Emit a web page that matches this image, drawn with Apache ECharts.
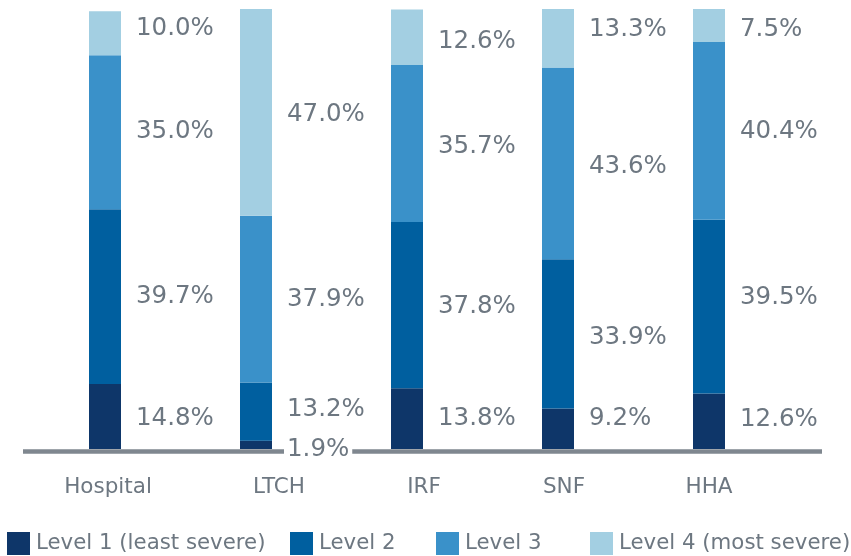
<!DOCTYPE html>
<html>
<head>
<meta charset="utf-8">
<style>
html,body{margin:0;padding:0;background:#fff;}
#main{width:851px;height:556px;}
</style>
<script src="https://cdn.jsdelivr.net/npm/echarts@6/dist/echarts.min.js"></script>
</head>
<body>
<div id="main"></div>
<script>
// ---- data ----
var categories = ['Hospital', 'LTCH', 'IRF', 'SNF', 'HHA'];
var seriesNames = ['Level 1 (least severe)', 'Level 2', 'Level 3', 'Level 4 (most severe)'];
var level1 = [14.8, 1.9, 13.8, 9.2, 12.6];
var level2 = [39.7, 13.2, 37.8, 33.9, 39.5];
var level3 = [35.0, 37.9, 35.7, 43.6, 40.4];
var level4 = [10.0, 47.0, 12.6, 13.3, 7.5];

// ---- styling ----
var colors = ['#0e3669', '#005f9f', '#3a91c9', '#a3cfe2'];
var textColor = '#6d7781';
var axisColor = '#7f878f';
var fontFamily = '"DejaVu Sans", Verdana, sans-serif';
var catShift = [6, 46, 34, 12, 0]; // category label horizontal nudges (padding-left px)
// vertical label nudges (px) per level, per category
var labelNudge = [
  [2, 5, 0, -10, -2],
  [0, -2, 2, 4, -9],
  [-1, 0, 3, 3, 1],
  [-5, 2, 4, -9, 4]
];

var levels = [level1, level2, level3, level4];
var rich = {};
categories.forEach(function (c, i) {
  rich['c' + i] = {
    fontSize: 21.5, color: textColor, fontFamily: fontFamily,
    padding: [0, 0, 0, catShift[i]]
  };
});

var series = levels.map(function (arr, k) {
  return {
    name: seriesNames[k],
    type: 'bar',
    stack: 'total',
    barWidth: 32,
    data: arr.map(function (v, i) {
      return { value: v, label: { offset: [0, labelNudge[k][i]] } };
    }),
    itemStyle: { color: colors[k] },
    z: 3,
    label: {
      show: true,
      position: 'right',
      distance: 12,
      formatter: function (p) { return p.value.toFixed(1) + '%'; },
      fontSize: 24.5,
      color: textColor,
      fontFamily: fontFamily,
      backgroundColor: '#fff',
      padding: [0, 3, 0, 3]
    }
  };
});

var legendLefts = [7, 290, 436, 590];
var legends = seriesNames.map(function (n, k) {
  return {
    data: [n],
    left: legendLefts[k],
    top: 532,
    itemWidth: 23,
    itemHeight: 23,
    itemGap: 0,
    padding: 0,
    icon: 'rect',
    textStyle: { fontSize: 21.3, color: textColor, fontFamily: fontFamily, padding: [0, 0, 0, 1] },
    selectedMode: false
  };
});

var chart = echarts.init(document.getElementById('main'), null, { renderer: 'canvas' });
chart.setOption({
  animation: false,
  backgroundColor: '#fff',
  color: colors,
  grid: { left: 29.5, right: 66.5, top: 9, bottom: 107 },
  legend: legends,
  xAxis: {
    type: 'category',
    data: categories,
    axisLine: { show: false },
    axisTick: { show: false },
    axisLabel: {
      margin: 27,
      formatter: function (v, i) { return '{c' + i + '|' + v + '}'; },
      rich: rich
    }
  },
  yAxis: {
    type: 'value',
    min: 0,
    max: 100,
    show: false
  },
  series: series
});

var y0 = chart.convertToPixel({ yAxisIndex: 0 }, 0);
chart.setOption({
  graphic: [{
    type: 'line',
    z: 1,
    shape: { x1: 23, y1: y0 + 2.5, x2: 822, y2: y0 + 2.5 },
    style: { stroke: axisColor, lineWidth: 4.5 }
  }]
});
</script>
</body>
</html>
